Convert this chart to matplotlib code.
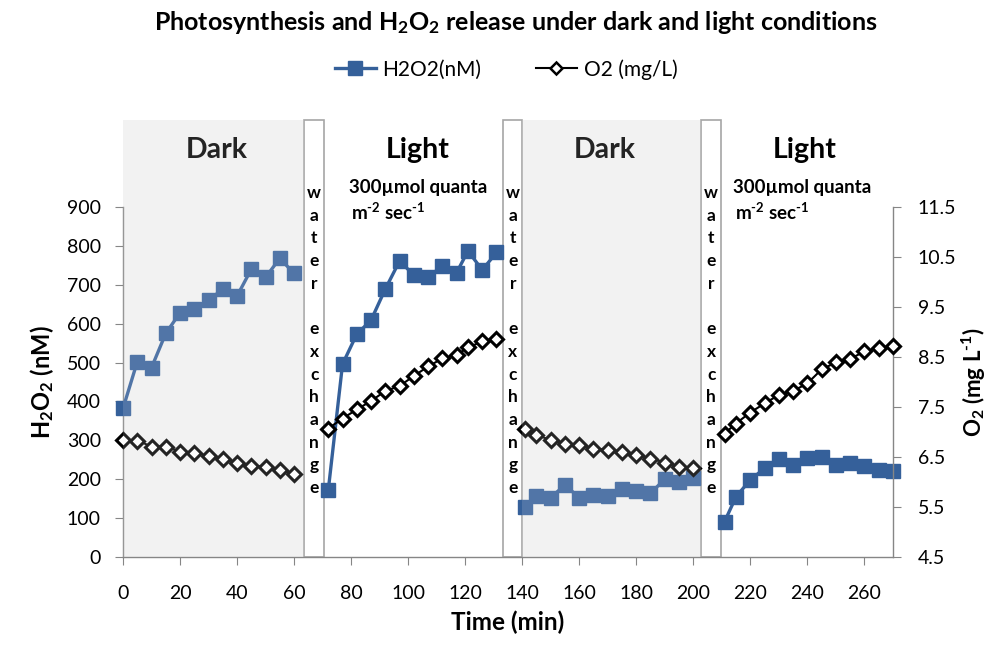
import numpy as np
import matplotlib
matplotlib.use("Agg")
import matplotlib.pyplot as plt
from matplotlib.patches import Rectangle
from matplotlib.lines import Line2D
from matplotlib import transforms

plt.rcParams['font.family'] = ['Lato', 'DejaVu Sans']
plt.rcParams['mathtext.fontset'] = 'custom'
plt.rcParams['mathtext.rm'] = 'Lato:bold'
plt.rcParams['mathtext.it'] = 'Lato:bold'
plt.rcParams['mathtext.bf'] = 'Lato:bold'

# time points (min) for the four phases
t_dark1 = [0, 5, 10, 15, 20, 25, 30, 35, 40, 45, 50, 55, 60]
t_light1 = [72, 77, 82, 87, 92, 97, 102, 107, 112, 117, 121, 126, 131]
t_dark2 = [141, 145, 150, 155, 160, 165, 170, 175, 180, 185, 190, 195, 200]
t_light2 = [211, 215, 220, 225, 230, 235, 240, 245, 250, 255, 260, 265, 270]

# H2O2 (nM)
h2o2_dark1 = [382, 502, 487, 575, 628, 637, 661, 688, 671, 740, 719, 768, 729]
h2o2_light1 = [172, 496, 573, 609, 689, 761, 725, 721, 747, 731, 787, 738, 783]
h2o2_dark2 = [128, 158, 153, 185, 153, 160, 158, 174, 170, 164, 200, 193, 202]
h2o2_light2 = [91, 155, 198, 228, 251, 237, 254, 258, 237, 241, 233, 224, 221]

# O2 (mg/L)
o2_dark1 = [6.84, 6.83, 6.71, 6.71, 6.61, 6.59, 6.52, 6.47, 6.39, 6.32, 6.31, 6.24, 6.17]
o2_light1 = [7.07, 7.27, 7.45, 7.62, 7.82, 7.92, 8.12, 8.31, 8.47, 8.54, 8.69, 8.81, 8.85]
o2_dark2 = [7.06, 6.94, 6.84, 6.77, 6.74, 6.67, 6.64, 6.61, 6.54, 6.47, 6.39, 6.31, 6.29]
o2_light2 = [6.97, 7.17, 7.39, 7.57, 7.74, 7.82, 7.97, 8.25, 8.39, 8.46, 8.61, 8.67, 8.72]

dark_spans = [(0, 63.5), (140.1, 202.9)]
water_spans = [(63.5, 70.6), (133.3, 140.1), (202.9, 209.8)]

blue = '#35609A'
grey = '#868686'

fig = plt.figure(figsize=(9.92, 6.48), dpi=100)
ax = fig.add_axes([0.124, 0.1404, 0.776, 0.5402])
ax2 = ax.twinx()

ax.set_xlim(0, 270)
ax.set_ylim(0, 900)
ax2.set_ylim(4.5, 11.5)

trans = transforms.blended_transform_factory(ax.transData, ax.transAxes)
trans2 = transforms.blended_transform_factory(ax2.transData, ax2.transAxes)
top = 1.2486

# grey dark-phase backgrounds
for x0, x1 in dark_spans:
    ax.add_patch(Rectangle((x0, 0), x1 - x0, top, transform=trans, facecolor='#F2F2F2',
                           edgecolor='none', clip_on=False, zorder=0))
    # light veil over the data in the dark phases
    ax2.add_patch(Rectangle((x0, 0), x1 - x0, top, transform=trans2, facecolor='#F2F2F2',
                            edgecolor='none', alpha=0.15, clip_on=False, zorder=10))

# water exchange boxes
for x0, x1 in water_spans:
    ax.add_patch(Rectangle((x0, 0), x1 - x0, top, transform=trans, facecolor='white',
                           edgecolor='#A6A6A6', linewidth=1.2, clip_on=False, zorder=1))
    xc = (x0 + x1) / 2
    letters = list("water") + [''] + list("exchange")
    for i, ch in enumerate(letters):
        y = (557 - (193 + i * 22.7)) / 350
        ax.text(xc, y, ch, transform=trans, ha='center', va='center', fontsize=12.5,
                fontweight='bold', zorder=3)

# data
for t, h in [(t_dark1, h2o2_dark1), (t_light1, h2o2_light1), (t_dark2, h2o2_dark2), (t_light2, h2o2_light2)]:
    ax.plot(t, h, color=blue, linewidth=2.4, marker='s', markersize=10, zorder=4, clip_on=False)
for t, o in [(t_dark1, o2_dark1), (t_light1, o2_light1), (t_dark2, o2_dark2), (t_light2, o2_light2)]:
    ax2.plot(t, o, color='black', linewidth=1.5, marker='D', markersize=7.5, markerfacecolor='white',
             markeredgecolor='black', markeredgewidth=2.2, zorder=4, clip_on=False)

# phase labels
for xc, lab in [(33, 'Dark'), (103.5, 'Light'), (169, 'Dark'), (239, 'Light')]:
    ax.text(xc, 1.163, lab, transform=trans, ha='center', va='center', fontsize=20.5,
            fontweight='bold', color='black')
for x in [79.3, 213.9]:
    ax.text(x, 1.057, '300µmol quanta', transform=trans, ha='left', va='center',
            fontsize=13.5, fontweight='bold')
    ax.text(x + 0.8, 0.986, r'm$^{\text{-2}}$ sec$^{\text{-1}}$', transform=trans, ha='left',
            va='center', fontsize=13.5, fontweight='bold')

# axes styling
ax.set_xticks(np.arange(0, 261, 20))
ax.set_yticks(np.arange(0, 901, 100))
ax2.set_yticks(np.arange(4.5, 11.6, 1.0))
ax2.set_yticklabels(['4.5', '5.5', '6.5', '7.5', '8.5', '9.5', '10.5', '11.5'])
for a in (ax, ax2):
    a.spines['top'].set_visible(False)
    for s in ('left', 'right', 'bottom'):
        a.spines[s].set_color(grey)
        a.spines[s].set_linewidth(1.0)
    a.tick_params(colors=grey, labelcolor='black', labelsize=14, length=6, direction='out')
ax.spines['right'].set_visible(False)
ax2.spines['left'].set_visible(False)
ax2.spines['bottom'].set_visible(False)
ax.tick_params(axis='x', pad=14)
ax.tick_params(axis='y', pad=10)
ax2.tick_params(axis='y', pad=12)

ax.set_xlabel('Time (min)', fontsize=17.5, fontweight='bold', labelpad=6)
ax.set_ylabel(r'H$_2$O$_2$ (nM)', fontsize=17, fontweight='bold', labelpad=8)
ax2.set_ylabel(r'O$_2$ (mg L$^{\text{-1}}$)', fontsize=16, fontweight='bold', labelpad=2)

fig.text(0.52, 0.966, r'Photosynthesis and H$_2$O$_2$ release under dark and light conditions',
         ha='center', va='center', fontsize=18, fontweight='bold')

handles = [Line2D([], [], color=blue, linewidth=2.4, marker='s', markersize=10),
           Line2D([], [], color='black', linewidth=1.5, marker='D', markersize=6, markerfacecolor='white',
                  markeredgewidth=1.8)]
fig.legend(handles, ['H2O2(nM)', 'O2 (mg/L)'], loc='center', bbox_to_anchor=(0.51, 0.893), ncol=2,
           frameon=False, fontsize=15, handlelength=2.0, columnspacing=2.6, handletextpad=0.3)

fig.savefig('out.png', dpi=100)
